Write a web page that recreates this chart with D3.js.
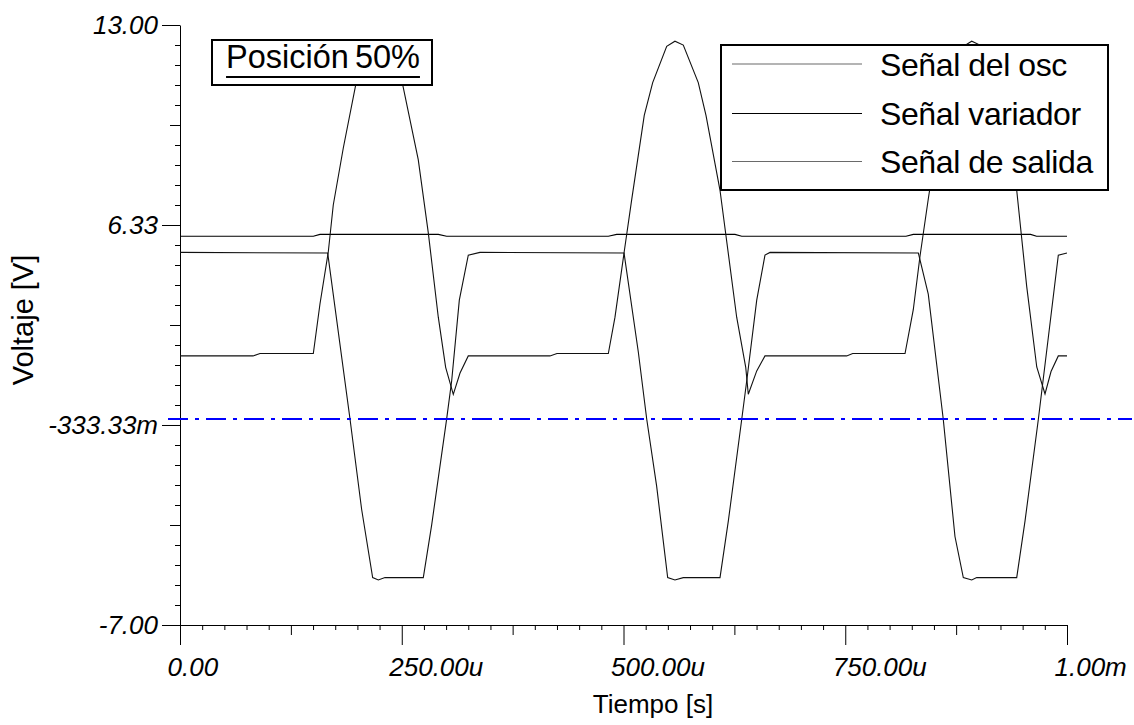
<!DOCTYPE html>
<html>
<head>
<meta charset="utf-8">
<script src="https://cdn.jsdelivr.net/npm/d3@7"></script>
<style>
  html, body { margin: 0; padding: 0; background: #fff; }
  svg { display: block; }
  text { font-family: "Liberation Sans", Arial, Helvetica, sans-serif; fill: #000; }
</style>
</head>
<body>
<svg id="chart" width="1134" height="725"></svg>
<script>
// Time in microseconds, voltage in volts.
const senalOsc = [
  [0, 5.42], [166.5, 5.40], [191.7, -0.14], [204.8, -3.15], [217.2, -5.42], [223.6, -5.50], [231.1, -5.42],
  [274.3, -5.42], [283.7, -3.67], [300.6, -0.14], [306.3, 1.14], [314.9, 3.83], [325.0, 5.33], [338.2, 5.42],
  [500.6, 5.40], [516.7, 2.10], [526.2, -0.14], [537.4, -2.38], [549.8, -5.42], [558.0, -5.50], [567.4, -5.42],
  [608.8, -5.42], [618.2, -3.53], [633.3, -0.14], [639.2, 1.20], [650.2, 3.83], [659.5, 5.33], [665.2, 5.42],
  [832.4, 5.40], [843.6, 4.03], [860.5, -0.14], [873.7, -4.05], [883.1, -5.42], [892.6, -5.50], [898.2, -5.42],
  [943.3, -5.42], [952.7, -3.53], [967.7, -0.14], [979.0, 2.60], [990.2, 5.33], [1000, 5.40]
];

const senalVariador = [
  [0, 5.96], [150.3, 5.96], [157.8, 6.02], [291.2, 6.02], [300.6, 5.96],
  [482.9, 5.96], [492.3, 6.02], [625.7, 6.02], [633.3, 5.96],
  [818.5, 5.96], [826.7, 6.02], [959.0, 6.02], [965.7, 5.96], [1000, 5.96]
];

const senalSalida = [
  [0, 1.97], [82.3, 1.97], [90.2, 2.05], [150.3, 2.05], [157.8, 3.70], [167.2, 5.44], [172.8, 7.00],
  [184.1, 8.90], [198.1, 11.00], [216.1, 12.29], [225.5, 12.46], [234.8, 12.33], [251.1, 11.00],
  [268.6, 8.51], [279.9, 6.08], [291.2, 3.26], [299.5, 1.59], [308.1, 0.69], [315.7, 1.40], [325.0, 1.97],
  [417.1, 1.97], [425.0, 2.05], [482.9, 2.05], [490.4, 3.26], [500.6, 5.40], [509.2, 7.17], [523.4, 9.99],
  [532.9, 11.08], [548.7, 12.29], [558.0, 12.46], [567.4, 12.33], [584.3, 11.08], [593.0, 9.99],
  [608.8, 7.49], [627.6, 3.26], [637.8, 1.59], [640.7, 0.69], [650.2, 1.47], [659.5, 1.97],
  [751.6, 1.97], [758.4, 2.05], [817.4, 2.05], [826.7, 3.51], [834.3, 5.30], [843.6, 7.20], [858.0, 9.99],
  [867.4, 11.08], [883.2, 12.29], [892.6, 12.46], [901.9, 12.33], [918.8, 11.08], [927.5, 9.99],
  [943.3, 7.49], [954.6, 4.28], [965.9, 1.60], [975.2, 0.70], [982.0, 1.45], [990.2, 1.97], [1000, 1.97]
];

// Horizontal cursor level (V)
const cursorV = -0.13;

const seriesNames = ["Señal del osc", "Señal variador", "Señal de salida"];

const xMajor = [0, 250, 500, 750, 1000];
const xTickLabels = ["0.00", "250.00u", "500.00u", "750.00u", "1.00m"];
const yMajor = [13, 6.3333, -0.3333, -7];
const yTickLabels = ["13.00", "6.33", "-333.33m", "-7.00"];

const titleText = "Posición 50%";
const xTitle = "Tiempo [s]";
const yTitle = "Voltaje [V]";

// ---- layout
const svg = d3.select("#chart");
const x = d3.scaleLinear().domain([0, 1000]).range([180, 1067]);
const y = d3.scaleLinear().domain([-7, 13]).range([625, 25]);

// minor / medium tick positions
const xMinor = d3.range(0, 1001, 25).filter(v => v % 125 !== 0);
const xMedium = d3.range(125, 1000, 250);
const yStep = 20 / 30;
const yMinor = d3.range(0, 31).map(i => -7 + i * yStep).filter((v, i) => i % 5 !== 0);
const yMedium = d3.range(0, 31).map(i => -7 + i * yStep).filter((v, i) => i % 10 === 5);

const gAxes = svg.append("g");

function plainAxis(axis, cls) {
  const g = gAxes.append("g").attr("class", cls);
  g.call(axis);
  g.selectAll("text").remove();
  g.select(".domain").remove();
  g.selectAll("line").attr("stroke", "#000");
  return g;
}

// X axis
plainAxis(d3.axisBottom(x).tickValues(xMinor).tickSize(5).tickSizeOuter(0), "xminor")
  .attr("transform", "translate(0,625)");
plainAxis(d3.axisBottom(x).tickValues(xMedium).tickSize(10).tickSizeOuter(0), "xmed")
  .attr("transform", "translate(0,625)");
const gx = gAxes.append("g").attr("transform", "translate(0,625)")
  .call(d3.axisBottom(x).tickValues(xMajor).tickSize(20).tickSizeOuter(0)
        .tickFormat((d, i) => xTickLabels[i]));
gx.select(".domain").attr("stroke", "#000");
gx.selectAll("line").attr("stroke", "#000");
gx.selectAll("text")
  .attr("text-anchor", "start")
  .attr("x", -13).attr("y", 51).attr("dy", 0)
  .style("font-size", "26px").style("font-style", "italic")
  .attr("fill", "#000");

// Y axis
plainAxis(d3.axisLeft(y).tickValues(yMinor).tickSize(5).tickSizeOuter(0), "yminor")
  .attr("transform", "translate(180,0)");
plainAxis(d3.axisLeft(y).tickValues(yMedium).tickSize(10).tickSizeOuter(0), "ymed")
  .attr("transform", "translate(180,0)");
const gy = gAxes.append("g").attr("transform", "translate(180,0)")
  .call(d3.axisLeft(y).tickValues(yMajor).tickSize(18).tickPadding(4).tickSizeOuter(0)
        .tickFormat((d, i) => yTickLabels[i]));
gy.select(".domain").attr("stroke", "#000");
gy.selectAll("line").attr("stroke", "#000");
gy.selectAll("text")
  .style("font-size", "26px").style("font-style", "italic")
  .attr("fill", "#000");

// Axis titles
svg.append("text")
  .attr("x", 653).attr("y", 713)
  .attr("text-anchor", "middle")
  .style("font-size", "26px")
  .text(xTitle);
svg.append("text")
  .attr("transform", "translate(33,320) rotate(-90)")
  .attr("text-anchor", "middle")
  .style("font-size", "29px")
  .text(yTitle);

// ---- curves
const line = d3.line().x(d => x(d[0])).y(d => y(d[1]));
const seriesColors = ["#6a6a6a", "#000000", "#6a6a6a"];
const allSeries = [senalOsc, senalVariador, senalSalida];
const gLines = svg.append("g");
allSeries.forEach((s, i) => {
  gLines.append("path")
    .datum(s)
    .attr("d", line)
    .attr("fill", "none")
    .attr("stroke", i === 1 ? "#000" : "#111")
    .attr("stroke-width", 1.1);
});

// cursor line
svg.append("line")
  .attr("x1", 168).attr("x2", 1132)
  .attr("y1", y(cursorV)).attr("y2", y(cursorV))
  .attr("stroke", "#0000ff")
  .attr("stroke-width", 2)
  .attr("stroke-dasharray", "20,7,4,7");

// ---- title box
const titleG = svg.append("g");
titleG.append("rect")
  .attr("x", 212).attr("y", 40).attr("width", 220).attr("height", 45)
  .attr("fill", "#fff").attr("stroke", "#000").attr("stroke-width", 2);
const tt = titleG.append("text")
  .attr("x", 323).attr("y", 68)
  .attr("text-anchor", "middle")
  .style("font-size", "32.5px")
  .style("word-spacing", "-3px")
  .text(titleText);
const tb = tt.node().getBBox();
titleG.append("line")
  .attr("x1", tb.x).attr("x2", tb.x + tb.width)
  .attr("y1", 77).attr("y2", 77)
  .attr("stroke", "#000").attr("stroke-width", 2);

// ---- legend
const legG = svg.append("g");
legG.append("rect")
  .attr("x", 721).attr("y", 45).attr("width", 387).attr("height", 145)
  .attr("fill", "#fff").attr("stroke", "#000").attr("stroke-width", 2);
const rowY = [64, 113.5, 161.5];
seriesNames.forEach((name, i) => {
  legG.append("line")
    .attr("x1", 732).attr("x2", 862)
    .attr("y1", rowY[i]).attr("y2", rowY[i])
    .attr("stroke", seriesColors[i]).attr("stroke-width", 1.2);
  legG.append("text")
    .attr("x", 880).attr("y", rowY[i] + 11.5)
    .style("font-size", "32px")
    .style("letter-spacing", "-0.4px")
    .text(name);
});
</script>
</body>
</html>
